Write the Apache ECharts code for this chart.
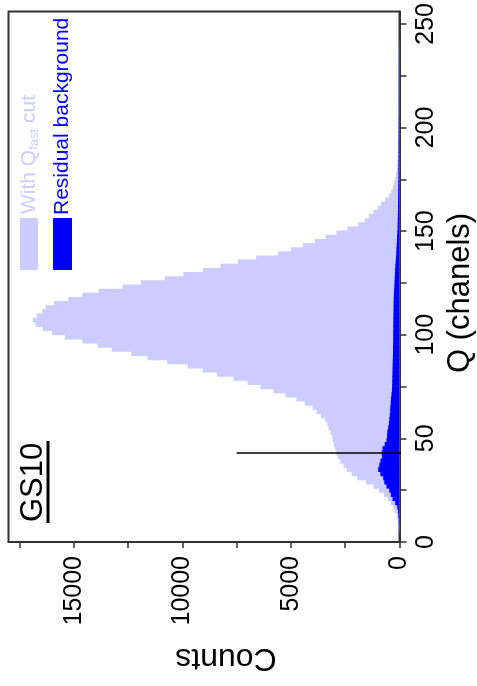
<!DOCTYPE html>
<html lang="en">

  <head>
    <meta charset="UTF-8" />
    <title>GS10 charge spectrum</title>
    <script src="https://cdn.jsdelivr.net/npm/echarts@6.0.0/dist/echarts.min.js"></script>
    <style>
      html, body { margin: 0; padding: 0; background: #fff; }
    </style>
  </head>

  <body>
    <div id="spectrum" style="width: 477px; height: 686px"></div>

    <script type="text/javascript">
      // Histogram bins are 2 channels wide, from Q = 0 to 256 (128 bins)
      // Counts per bin
      const withCutCounts = [
        0, 0, 10, 30, 50, 80, 120, 200, 290, 400,
        540, 720, 950, 1200, 1550, 1950, 2200, 2420, 2580, 2720,
        2830, 2900, 2960, 3020, 3060, 3100, 3180, 3260, 3320, 3420,
        3620, 3820, 4000, 4350, 4750, 5250, 5800, 6400, 7000, 7650,
        8400, 9050, 9750, 10700, 11600, 12350, 13250, 13900, 14600, 15400,
        16000, 16420, 16750, 16880, 16700, 16450, 16300, 15900, 15250, 14600,
        13850, 12750, 11900, 10800, 9950, 9050, 8250, 7450, 6600, 5600,
        5000, 4450, 3900, 3400, 2900, 2400, 1900, 1600, 1400, 1200,
        1000, 850, 650, 480, 380, 300, 240, 200, 160, 130,
        110, 95, 80, 65, 50, 45, 40, 38, 35, 33,
        30, 30, 28, 26, 25, 24, 22, 22, 20, 20,
        18, 18, 16, 15, 15, 14, 12, 12, 10, 10,
        8, 0, 0, 0, 0, 0, 0, 0
      ];
      const residualCounts = [
        0, 5, 10, 20, 30, 40, 50, 70, 100, 200,
        320, 400, 470, 600, 700, 750, 880, 980, 930, 880,
        800, 820, 780, 680, 600, 570, 560, 520, 490, 470,
        450, 430, 420, 400, 390, 370, 350, 340, 335, 330,
        325, 320, 315, 310, 305, 300, 300, 295, 290, 290,
        290, 285, 285, 280, 280, 275, 275, 270, 265, 260,
        250, 240, 230, 220, 210, 200, 190, 175, 160, 150,
        140, 130, 120, 110, 100, 90, 85, 80, 75, 72,
        70, 68, 65, 62, 60, 58, 55, 53, 50, 50,
        48, 47, 46, 45, 45, 40, 38, 36, 34, 32,
        30, 28, 27, 25, 24, 23, 22, 21, 20, 19,
        18, 17, 16, 15, 14, 13, 12, 11, 10, 9,
        8, 0, 0, 0, 0, 0, 0, 0
      ];
      const binWidth = 2;
      const qBins = withCutCounts.map((_, i) => String(i * binWidth));

      // Axis ticks and labels
      const qTicks = [0, 25, 50, 75, 100, 125, 150, 175, 200, 225, 250];
      const qLabels = [0, 50, 100, 150, 200, 250];
      const countTicks = [0, 2500, 5000, 7500, 10000, 12500, 15000, 17500];
      const countLabels = [0, 5000, 10000, 15000];

      // Qfast cut marker
      const cutQ = 43;
      const cutCounts = [7500, -370];

      const lightBlue = "#ccccff";
      const darkBlue = "#0000ff";
      const axisColor = "#333";
      const font = "Liberation Sans";

      let chart = echarts.init(document.getElementById("spectrum"));

      const option = {
        animation: false,
        grid: {
          left: 8.5,
          right: 77.5,
          top: 10,
          bottom: 144,
          show: true,
          borderColor: axisColor,
          borderWidth: 2,
        },
        xAxis: {
          type: "value",
          inverse: true,
          min: 0,
          max: 18000,
          position: "bottom",
          axisLine: { show: true, lineStyle: { color: axisColor, width: 2 } },
          axisTick: {
            show: true,
            length: 6,
            customValues: countTicks,
            lineStyle: { color: axisColor, width: 1.5 },
          },
          axisLabel: {
            customValues: countLabels,
            formatter: (v) => String(v),
            rotate: 90,
            margin: 14,
            fontSize: 25,
            fontFamily: font,
            color: "#000",
          },
          splitLine: { show: false },
        },
        yAxis: [
          {
            type: "category",
            data: qBins,
            show: false,
          },
          {
            type: "value",
            min: 0,
            max: 256,
            position: "right",
            axisLine: { show: true, lineStyle: { color: axisColor, width: 2 } },
            axisTick: {
              show: true,
              length: 7,
              customValues: qTicks,
              lineStyle: { color: axisColor, width: 1.5 },
            },
            axisLabel: {
              customValues: qLabels,
              formatter: (v) => String(v),
              rotate: 90,
              margin: 14,
              fontSize: 25,
              fontFamily: font,
              color: "#000",
            },
            splitLine: { show: false },
          },
        ],
        series: [
          {
            name: "With Qfast cut",
            type: "bar",
            yAxisIndex: 0,
            data: withCutCounts,
            // slightly wider than a bin so neighbouring bars leave no seams
            barWidth: "125%",
            barGap: "-100%",
            itemStyle: { color: lightBlue },
            silent: true,
          },
          {
            name: "Residual background",
            type: "bar",
            yAxisIndex: 0,
            data: residualCounts,
            barWidth: "125%",
            barGap: "-100%",
            itemStyle: { color: darkBlue },
            silent: true,
          },
          {
            name: "cut",
            type: "line",
            yAxisIndex: 1,
            data: cutCounts.map((c) => [c, cutQ]),
            clip: false,
            showSymbol: false,
            lineStyle: { color: "#000", width: 1.5 },
            silent: true,
          },
        ],
        graphic: [
          // legend swatches and labels (rotated like the rest of the figure)
          { type: "rect", shape: { x: 20, y: 218, width: 18, height: 52 }, style: { fill: lightBlue } },
          { type: "rect", shape: { x: 53, y: 218, width: 19, height: 52 }, style: { fill: darkBlue } },
          {
            type: "text",
            x: 29,
            y: 214,
            rotation: Math.PI / 2,
            style: {
              text: "{a|With Q}{b|fast}{a| cut}",
              fill: lightBlue,
              align: "left",
              verticalAlign: "middle",
              rich: {
                a: { fontSize: 21, fontFamily: font, fill: lightBlue, lineHeight: 24, verticalAlign: "middle" },
                b: { fontSize: 13, fontFamily: font, fill: lightBlue, lineHeight: 13, verticalAlign: "bottom" },
              },
            },
          },
          {
            type: "text",
            x: 62.5,
            y: 215,
            rotation: Math.PI / 2,
            style: {
              text: "Residual background",
              fill: darkBlue,
              fontSize: 21,
              fontFamily: font,
              align: "left",
              verticalAlign: "middle",
            },
          },
          // detector label
          {
            type: "text",
            x: 33,
            y: 522,
            rotation: Math.PI / 2,
            style: {
              text: "GS10",
              fill: "#000",
              fontSize: 31,
              fontFamily: font,
              align: "left",
              verticalAlign: "middle",
            },
          },
          { type: "line", shape: { x1: 48, y1: 441, x2: 48, y2: 523 }, style: { stroke: "#000", lineWidth: 3 } },
          // axis titles
          {
            type: "text",
            x: 460,
            y: 293,
            rotation: Math.PI / 2,
            style: {
              text: "Q (chanels)",
              fill: "#000",
              fontSize: 31,
              fontFamily: font,
              align: "center",
              verticalAlign: "middle",
            },
          },
          {
            type: "text",
            x: 226,
            y: 658,
            rotation: Math.PI,
            style: {
              text: "Counts",
              fill: "#000",
              fontSize: 32,
              fontFamily: font,
              align: "center",
              verticalAlign: "middle",
            },
          },
        ],
      };

      chart.setOption(option);
    </script>
  </body>

</html>
